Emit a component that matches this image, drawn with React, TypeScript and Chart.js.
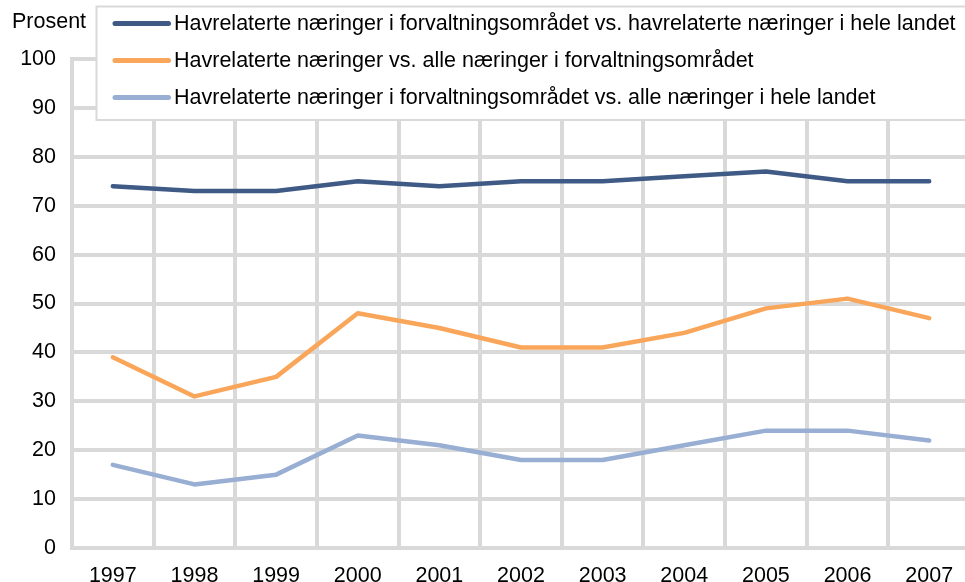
import React, { useEffect, useRef } from "react";
import { Chart, registerables } from "chart.js";

Chart.register(...registerables);

const years = ["1997", "1998", "1999", "2000", "2001", "2002", "2003", "2004", "2005", "2006", "2007"];
const seriesLabels = [
  "Havrelaterte næringer i forvaltningsområdet vs. havrelaterte næringer i hele landet",
  "Havrelaterte næringer vs. alle næringer i forvaltningsområdet",
  "Havrelaterte næringer i forvaltningsområdet vs. alle næringer i hele landet",
];
const havVsHavLandet = [74, 73, 73, 75, 74, 75, 75, 76, 77, 75, 75];
const havVsAlleOmradet = [39, 31, 35, 48, 45, 41, 41, 44, 49, 51, 47];
const havVsAlleLandet = [17, 13, 15, 23, 21, 18, 18, 21, 24, 24, 22];
const seriesColors = ["#3f5a85", "#f9a65a", "#98aed3"];
const yAxisTitle = "Prosent";

const FONT = "'Liberation Sans', Arial, sans-serif";
const FSIZE = 21.5;
const GRID = "#d9d9d9";

const overlayPlugin = {
  id: "overlayLegend",
  afterDraw(chart: any) {
    const ctx = chart.ctx;
    ctx.save();
    ctx.font = `${FSIZE}px ${FONT}`;
    ctx.fillStyle = "#000000";
    ctx.textBaseline = "middle";
    ctx.textAlign = "left";
    ctx.fillText(yAxisTitle, 12, 22);
    ctx.fillStyle = "#ffffff";
    ctx.fillRect(96.5, 6.5, 1000, 113.5);
    ctx.strokeStyle = GRID;
    ctx.lineWidth = 2;
    ctx.strokeRect(96.5, 6.5, 1000, 113.5);
    const ys = [23.5, 60.5, 97.5];
    seriesLabels.forEach((lab, i) => {
      ctx.beginPath();
      ctx.strokeStyle = seriesColors[i];
      ctx.lineWidth = 5;
      ctx.lineCap = "round";
      ctx.moveTo(115, ys[i]);
      ctx.lineTo(168.5, ys[i]);
      ctx.stroke();
      ctx.fillStyle = "#000000";
      ctx.font = `${FSIZE}px ${FONT}`;
      ctx.fillText(lab, 174, ys[i] + 1);
    });
    ctx.restore();
  },
};

export default function App() {
  const ref = useRef<HTMLCanvasElement>(null);
  useEffect(() => {
    const data = [havVsHavLandet, havVsAlleOmradet, havVsAlleLandet];
    const chart = new Chart(ref.current!, {
      type: "line",
      data: {
        labels: years,
        datasets: data.map((d, i) => ({
          label: seriesLabels[i],
          data: d,
          borderColor: seriesColors[i],
          backgroundColor: seriesColors[i],
          borderWidth: 4.5,
          pointRadius: 0,
          tension: 0,
          borderCapStyle: "round" as const,
          borderJoinStyle: "round" as const,
        })),
      },
      options: {
        responsive: false,
        animation: false,
        devicePixelRatio: 1,
        layout: { padding: { top: 59, left: 0, right: 0, bottom: 0 } },
        plugins: { legend: { display: false }, title: { display: false }, tooltip: { enabled: false } },
        scales: {
          x: {
            offset: true,
            grid: { offset: true, color: GRID, lineWidth: 4, drawTicks: false },
            border: { display: true, color: GRID, width: 4 },
            ticks: { color: "#000000", font: { family: FONT, size: FSIZE }, padding: 15, maxRotation: 0 },
            afterFit(scale: any) {
              scale.height = 34;
            },
          },
          y: {
            min: 0,
            max: 100,
            ticks: { stepSize: 10, color: "#000000", font: { family: FONT, size: FSIZE }, padding: 16 },
            grid: { color: GRID, lineWidth: 4, drawTicks: false },
            border: { display: true, color: GRID, width: 4 },
            afterFit(scale: any) {
              scale.width = 72;
            },
          },
        },
      },
      plugins: [overlayPlugin],
    });
    return () => chart.destroy();
  }, []);
  return (
    <div style={{ position: "fixed", left: 0, top: 0, width: 965, height: 582, overflow: "hidden", background: "#ffffff" }}>
      <canvas ref={ref} width={970} height={582} style={{ display: "block", width: 970, height: 582 }} />
    </div>
  );
}
